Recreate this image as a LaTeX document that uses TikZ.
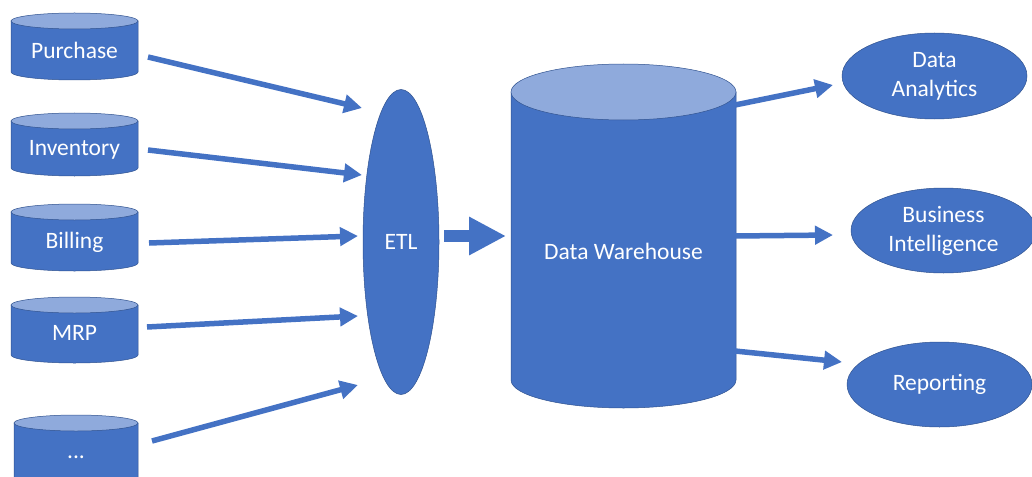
\documentclass[tikz,border=0pt]{standalone}
\usepackage{fontspec}
\setmainfont{Carlito}
\usetikzlibrary{arrows.meta,shapes.geometric}
\definecolor{bodyc}{HTML}{4472C4}
\definecolor{topc}{HTML}{8FAADC}
\definecolor{edgec}{HTML}{2F528F}
\tikzset{
  txt/.style={text=white, font=\fontsize{23.5}{29}\selectfont, align=center, inner sep=0pt},
  flow/.style={draw=bodyc, line width=5.5pt, -{Triangle[length=18pt,width=18pt]}},
  bigflow/.style={draw=bodyc, line width=12pt, -{Triangle[length=37pt,width=36pt]}},
  oval/.style={ellipse, fill=bodyc, draw=edgec, line width=0.5pt, inner sep=0pt, txt},
  cylbody/.style={fill=bodyc, draw=edgec, line width=0.5pt},
  cyltop/.style={fill=topc, draw=edgec, line width=0.5pt}
}
% #1 name, #2 cx, #3 top centre y, #4 bottom centre y, #5 rx, #6 ry, #7 text y, #8 text
\newcommand\dbcyl[8]{%
  \path[cylbody] (#2-#5,#3) -- (#2-#5,#4)
     arc[start angle=180,end angle=360,x radius=#5pt,y radius=#6pt] -- (#2+#5,#3) -- cycle;
  \path[cyltop] (#2,#3) ellipse[x radius=#5pt, y radius=#6pt];
  \node[txt] (#1) at (#2,#7) {#8};
}
\begin{document}
\begin{tikzpicture}[x=1pt,y=-1pt]
\useasboundingbox (0,0) rectangle (1032,476);

% sources
\dbcyl{pur}{74.5}{21}{72}{63.5}{8}{50}{Purchase}
\dbcyl{inv}{74.5}{121}{168}{63.5}{8}{150}{Inventory}
\dbcyl{bil}{74.5}{212}{263}{63.5}{8}{242}{Billing}
\dbcyl{mrp}{74.5}{305}{355}{63.5}{8}{333}{MRP}
\dbcyl{etc}{76}{423}{490}{62}{8}{457}{...}

% ETL
\node[oval, minimum width=76pt, minimum height=305pt] (etl) at (401,242) {ETL};

% warehouse
\dbcyl{dw}{623.5}{92}{380}{112.5}{28}{251}{Data Warehouse}

% consumers
\node[oval, minimum width=185pt, minimum height=86pt] (da) at (934.5,76) {Data\\Analytics};
\node[oval, minimum width=185pt, minimum height=85pt] (bi) at (943.5,230.5) {Business\\Intelligence};
\node[oval, minimum width=185pt, minimum height=85pt] (rep) at (939.5,384.5) {Reporting};

% connector end points
\coordinate (pur-o) at (148,57);   \coordinate (etl-i1) at (362,108);
\coordinate (inv-o) at (148,150);  \coordinate (etl-i2) at (362,175);
\coordinate (bil-o) at (149,243);  \coordinate (etl-i3) at (358,236);
\coordinate (mrp-o) at (147,327);  \coordinate (etl-i4) at (358,316);
\coordinate (etc-o) at (152,441);  \coordinate (etl-i5) at (358,385);
\coordinate (etl-o) at (444,236);  \coordinate (dw-i) at (506,236);
\coordinate (dw-o1) at (735,105);  \coordinate (da-i) at (833,85);
\coordinate (dw-o2) at (735,236);  \coordinate (bi-i) at (833,235);
\coordinate (dw-o3) at (735,351);  \coordinate (rep-i) at (842,362);

\draw[flow] (pur-o) -- (etl-i1);
\draw[flow] (inv-o) -- (etl-i2);
\draw[flow] (bil-o) -- (etl-i3);
\draw[flow] (mrp-o) -- (etl-i4);
\draw[flow] (etc-o) -- (etl-i5);
\draw[bigflow] (etl-o) -- (dw-i);
\draw[flow] (dw-o1) -- (da-i);
\draw[flow] (dw-o2) -- (bi-i);
\draw[flow] (dw-o3) -- (rep-i);
\end{tikzpicture}
\end{document}
